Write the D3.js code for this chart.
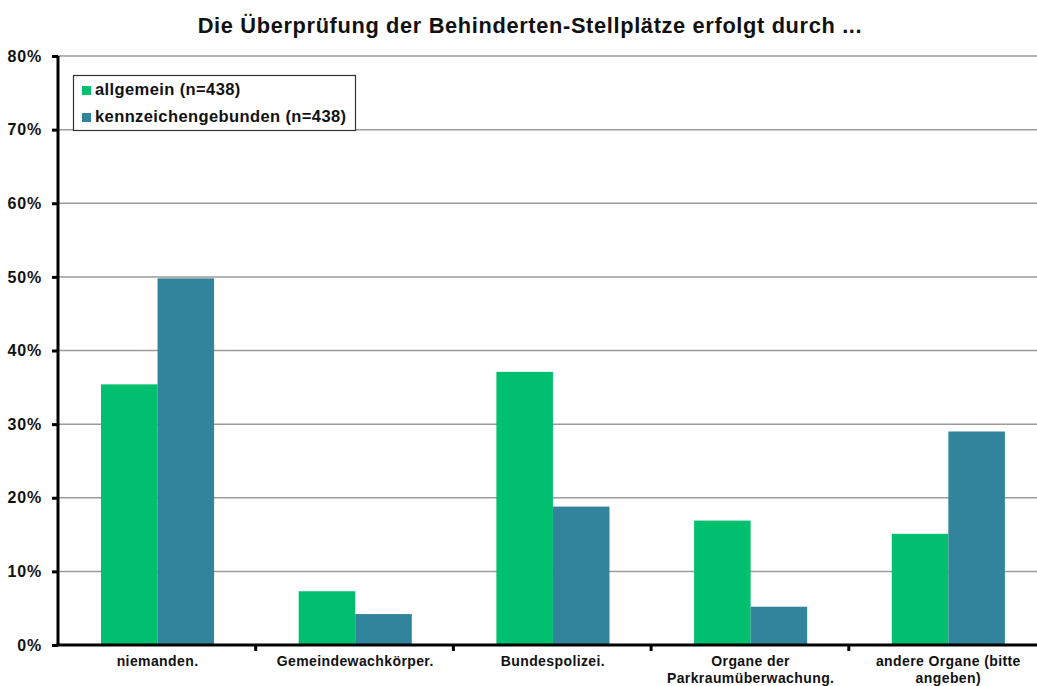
<!DOCTYPE html>
<html><head><meta charset="utf-8">
<script src="https://cdn.jsdelivr.net/npm/d3@7"></script>
<style>body{margin:0;background:#fff;} text{font-family:"Liberation Sans",Arial,sans-serif;font-weight:bold;}</style>
</head><body>
<svg id="c" width="1037" height="686"></svg>
<script>
const categories = [["niemanden."],["Gemeindewachkörper."],["Bundespolizei."],["Organe der","Parkraumüberwachung."],["andere Organe (bitte","angeben)"]];
const seriesNames = ["allgemein (n=438)","kennzeichengebunden (n=438)"];
const allgemein = [35.4, 7.3, 37.1, 16.9, 15.1];
const kennzeichen = [49.8, 4.2, 18.8, 5.2, 29.0];
const yTicks = [0,10,20,30,40,50,60,70,80];
const colors = ["#00BF6F","#31849B"];
const title = "Die Überprüfung der Behinderten-Stellplätze erfolgt durch ...";

const svg = d3.select("#c");
const L=58, T=56, B=645;
const stepW = 197.7, pIn = 0.428, pOut = 0.2175;
const R = L + stepW*(categories.length - pIn + 2*pOut);
const x = d3.scaleBand().domain(d3.range(categories.length)).range([L,R]).paddingInner(pIn).paddingOuter(pOut);
const xs = d3.scaleBand().domain([0,1]).range([0,x.bandwidth()]);
const y = d3.scaleLinear().domain([0,80]).range([B,T]);

svg.append("text").attr("x",530).attr("y",33).attr("text-anchor","middle").attr("font-size",21.8)
  .attr("letter-spacing",0.65).attr("fill","#111").text(title);

// gridlines
svg.append("g").selectAll("line").data(yTicks.filter(d=>d>0)).join("line")
  .attr("x1",L).attr("x2",1037).attr("y1",d=>y(d)).attr("y2",d=>y(d))
  .attr("stroke","#9a9a9a").attr("stroke-width",1.5);

// bars
const data = [allgemein,kennzeichen];
data.forEach((vals,si)=>{
  svg.append("g").selectAll("rect").data(vals).join("rect")
    .attr("x",(d,i)=>x(i)+xs(si)).attr("width",xs.bandwidth())
    .attr("y",d=>y(d)).attr("height",d=>y(0)-y(d)).attr("fill",colors[si]);
});

// y axis
const ya = d3.axisLeft(y).tickValues(yTicks).tickFormat(d=>d+"%").tickSize(6).tickPadding(10);
const yg = svg.append("g").attr("transform",`translate(${L},0)`).call(ya);
yg.select(".domain").attr("stroke","#000").attr("stroke-width",3).attr("d",`M0,${T}V${B}`);
yg.selectAll(".tick line").attr("stroke","#000").attr("stroke-width",3);
yg.selectAll(".tick text").attr("font-size",16).attr("letter-spacing",0.8).attr("fill","#111")
  .style("font-family","'Liberation Sans',Arial,sans-serif").style("font-weight","bold");

// x axis
const xg = svg.append("g").attr("transform",`translate(0,${B})`);
xg.append("line").attr("x1",L-2).attr("x2",1037).attr("stroke","#000").attr("stroke-width",3);
xg.selectAll(".tk").data(d3.range(1,categories.length)).join("line").attr("class","tk")
  .attr("x1",i=>L+x.step()*i).attr("x2",i=>L+x.step()*i).attr("y1",0).attr("y2",6)
  .attr("stroke","#000").attr("stroke-width",3);
categories.forEach((lines,i)=>{
  const t = xg.append("text").attr("text-anchor","middle").attr("font-size",14).attr("letter-spacing",0.4).attr("fill","#111");
  lines.forEach((ln,j)=>t.append("tspan").attr("x",x(i)+x.bandwidth()/2).attr("y",21+j*16.5).text(ln));
});

// legend
const lg = svg.append("g");
lg.append("rect").attr("x",73.5).attr("y",75.5).attr("width",282).attr("height",55).attr("fill","#fff").attr("stroke","#333").attr("stroke-width",1.2);
seriesNames.forEach((n,i)=>{
  lg.append("rect").attr("x",82).attr("y",86+i*27).attr("width",9).attr("height",9).attr("fill",colors[i]);
  lg.append("text").attr("x",95).attr("y",95+i*27).attr("font-size",16.5).attr("letter-spacing",0.4).attr("fill","#111").text(n);
});
</script>
</body></html>
